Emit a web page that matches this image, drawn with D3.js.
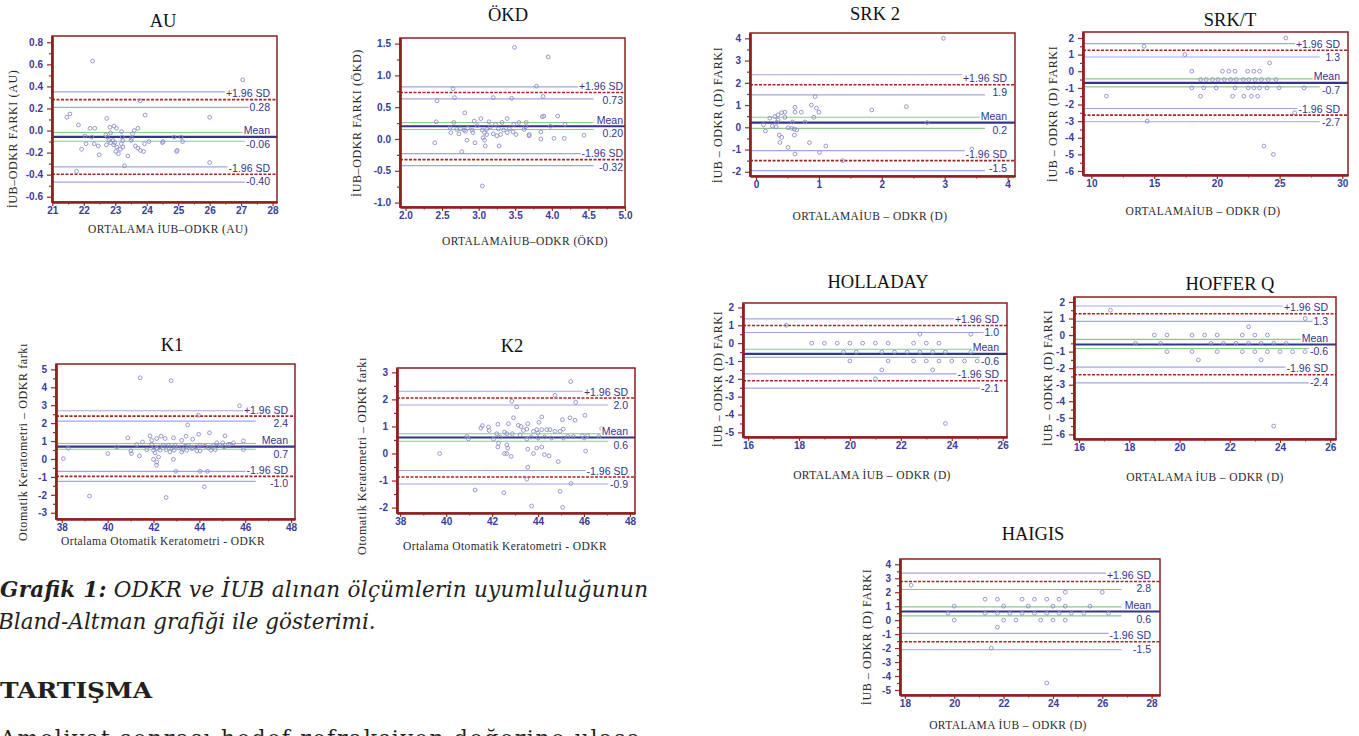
<!DOCTYPE html>
<html>
<head>
<meta charset="utf-8">
<script src="https://cdn.jsdelivr.net/npm/d3@7/dist/d3.min.js"></script>
<style>
  body { margin: 0; background: #fff; }
  svg { display: block; }
</style>
</head>
<body>
<svg id="page" width="1359" height="736"></svg>
<script>
// ---- data ----
const titles = ["AU", "ÖKD", "K1", "K2", "SRK 2", "SRK/T", "HOLLADAY", "HOFFER Q", "HAIGIS"];
const xLabels = [
  "ORTALAMA İUB–ODKR (AU)", "ORTALAMAİUB–ODKR (ÖKD)",
  "Ortalama Otomatik Keratometri - ODKR", "Ortalama Otomatik Keratometri - ODKR",
  "ORTALAMAİUB – ODKR (D)", "ORTALAMAİUB – ODKR (D)",
  "ORTALAMA İUB – ODKR (D)", "ORTALAMA İUB – ODKR (D)", "ORTALAMA İUB – ODKR (D)"
];
const yLabels = [
  "İUB–ODKR FARKI (AU)", "İUB–ODKR FARKI (ÖKD)",
  "Otomatik Keratometri – ODKR farkı", "Otomatik Keratometri – ODKR farkı",
  "İUB – ODKR (D) FARKI", "İUB – ODKR (D) FARKI",
  "İUB – ODKR (D) FARKI", "İUB – ODKR (D) FARKI", "İUB – ODKR (D) FARKI"
];

// [mean difference, value] pairs
const auPoints = [[22.28,0.63],[27.05,0.46],[23.79,0.27],[21.46,0.12],[21.56,0.15],[21.83,0.05],[22.2,0.02],[22.35,0.02],[22.73,0.11],[23.95,0.14],[26.0,0.12],[22.04,-0.05],[22.25,-0.06],[22.07,-0.12],[21.93,-0.17],[22.33,-0.12],[22.46,-0.14],[22.49,-0.22],[22.83,0.03],[22.96,0.04],[23.04,0.02],[22.7,-0.04],[22.75,-0.06],[22.8,-0.09],[22.85,-0.11],[22.72,-0.13],[22.85,-0.02],[22.93,-0.09],[22.98,-0.11],[23.05,-0.15],[22.95,-0.13],[23.02,-0.19],[23.1,-0.21],[23.2,-0.01],[23.22,-0.06],[23.24,-0.09],[23.19,-0.12],[23.16,-0.17],[23.24,-0.15],[23.29,-0.32],[23.4,-0.23],[23.52,-0.07],[23.55,-0.03],[23.6,0.0],[23.72,0.02],[23.5,-0.09],[23.64,-0.14],[23.72,-0.16],[23.8,-0.18],[23.9,-0.19],[23.93,-0.12],[24.07,-0.10],[24.5,-0.11],[24.52,-0.10],[24.87,-0.06],[25.09,-0.06],[25.14,-0.10],[24.97,-0.18],[24.95,-0.19],[26.0,-0.29],[21.77,-0.37]];
const okdPoints = [[3.49,1.44],[3.95,1.29],[2.65,0.79],[3.79,0.83],[2.67,0.65],[2.43,0.60],[3.20,0.65],[3.45,0.64],[3.88,0.67],[2.81,0.41],[2.42,0.27],[2.66,0.26],[2.94,0.28],[3.03,0.32],[3.14,0.27],[3.39,0.32],[3.32,0.26],[3.55,0.26],[3.65,0.26],[3.87,0.35],[3.89,0.36],[4.08,0.36],[4.18,0.23],[3.98,0.20],[2.98,0.21],[3.23,0.23],[3.48,0.23],[2.61,0.18],[2.70,0.15],[2.75,0.16],[2.80,0.14],[2.85,0.17],[2.91,0.14],[2.62,0.10],[2.73,0.08],[2.82,0.12],[2.92,0.10],[3.11,0.15],[3.16,0.19],[3.27,0.16],[3.34,0.14],[3.42,0.16],[3.47,0.11],[3.51,0.07],[3.64,0.19],[3.62,0.15],[3.69,0.07],[3.69,0.05],[3.85,0.11],[3.85,0.0],[4.03,0.01],[4.17,0.01],[4.44,0.06],[3.05,0.14],[3.08,0.10],[3.11,0.07],[3.20,0.08],[3.25,0.05],[3.30,0.07],[3.39,0.10],[3.06,0.02],[3.08,-0.02],[2.84,-0.02],[2.95,-0.06],[2.40,-0.06],[3.09,-0.11],[3.28,-0.11],[2.77,-0.20],[3.05,-0.74]];
const k1Points = [[41.42,4.53],[42.77,4.37],[45.75,2.97],[43.96,2.44],[43.49,1.90],[43.97,1.38],[44.44,1.46],[45.12,1.29],[40.88,1.18],[41.85,1.29],[42.33,1.27],[42.87,1.18],[43.42,1.27],[43.23,1.04],[43.71,1.10],[41.92,1.04],[42.14,1.14],[42.51,1.14],[41.52,0.95],[41.27,0.80],[40.40,0.67],[38.29,0.60],[41.01,0.45],[41.04,0.30],[40.01,0.30],[38.07,0.02],[41.39,0.17],[41.71,0.52],[42.0,0.49],[42.14,0.58],[42.26,0.67],[42.43,0.76],[42.65,0.76],[42.80,0.63],[42.94,0.76],[43.09,0.63],[43.28,0.52],[43.38,0.71],[43.52,0.76],[43.71,0.63],[43.86,0.67],[44.03,0.76],[44.25,0.71],[44.40,0.63],[44.61,0.76],[44.76,0.90],[44.90,0.76],[45.08,0.67],[45.27,0.82],[45.49,0.90],[45.92,1.01],[45.92,0.52],[44.69,0.52],[44.03,0.45],[43.45,0.49],[42.90,0.49],[42.55,0.52],[42.07,0.34],[42.22,0.11],[42.0,-0.02],[42.14,-0.17],[42.13,-0.35],[42.87,-0.02],[42.97,-0.69],[44.03,-0.69],[44.35,-0.69],[44.22,-1.55],[42.55,-2.15],[39.21,-2.07],[41.92,0.82],[42.03,0.67],[42.29,0.49],[42.72,0.39],[43.23,0.39],[43.67,0.58],[43.89,0.45],[44.50,0.49],[45.02,0.90],[45.34,0.82]];
const k2Points = [[45.42,2.66],[44.74,2.15],[42.86,1.93],[43.07,1.72],[45.64,1.89],[46.04,1.41],[42.93,1.32],[44.16,1.35],[45.39,1.32],[45.06,1.25],[45.61,1.23],[43.55,1.10],[44.04,1.15],[42.71,1.10],[41.58,1.03],[41.51,0.94],[41.84,0.98],[41.87,0.85],[42.25,1.08],[43.14,1.04],[43.26,1.0],[42.54,0.79],[43.36,0.85],[43.51,0.90],[43.80,0.82],[43.94,0.88],[43.99,0.75],[44.16,0.88],[44.38,0.88],[44.52,0.88],[44.74,0.82],[44.96,0.82],[45.10,0.90],[43.70,0.61],[46.77,0.92],[46.65,0.63],[45.93,0.66],[46.01,0.57],[46.16,0.66],[45.54,0.63],[45.29,0.63],[45.10,0.57],[44.59,0.57],[44.28,0.61],[44.01,0.57],[43.51,0.53],[43.22,0.69],[42.88,0.73],[42.64,0.73],[42.35,0.61],[42.20,0.73],[40.90,0.63],[40.97,0.54],[42.06,0.53],[42.28,0.38],[42.25,0.24],[42.64,0.32],[42.68,0.20],[42.54,0.0],[42.64,0.0],[42.83,-0.11],[39.72,0.0],[43.55,0.16],[43.80,0.0],[43.94,0.20],[44.16,0.24],[44.28,-0.04],[44.48,-0.09],[44.88,-0.30],[46.07,0.09],[43.55,-0.51],[43.51,-0.95],[45.43,-1.11],[41.26,-1.35],[42.51,-1.45],[44.96,-1.40],[43.72,-1.94],[45.07,-1.99]];
const srk2Points = [[2.98,4.0],[0.94,1.38],[0.62,0.90],[0.88,1.0],[0.96,0.86],[1.0,0.68],[0.72,0.68],[0.62,0.68],[0.41,0.66],[0.46,0.68],[0.35,0.56],[0.30,0.48],[0.22,0.41],[0.46,0.45],[0.92,0.45],[0.35,0.33],[0.33,0.23],[0.58,0.24],[0.78,0.24],[0.12,0.11],[0.26,0.06],[0.32,0.02],[0.51,-0.02],[0.57,-0.05],[0.61,-0.08],[0.65,-0.12],[0.15,-0.17],[0.37,-0.35],[0.41,-0.45],[0.61,-0.35],[0.38,-0.68],[0.85,-0.69],[1.11,-0.84],[0.51,-0.90],[1.01,-1.13],[0.62,-1.20],[1.38,-1.50],[1.84,0.78],[2.39,0.93],[2.72,0.21],[3.43,-0.98]];
const srktPoints = [[25.5,2.0],[14.2,1.5],[17.45,1.0],[24.2,0.5],[18.0,0],[20.45,0],[20.95,0],[21.45,0],[22.45,0],[22.95,0],[23.4,0],[18.7,-0.5],[19.15,-0.5],[19.65,-0.5],[20.1,-0.5],[20.6,-0.5],[21.1,-0.5],[21.55,-0.5],[22.1,-0.5],[22.55,-0.5],[23.05,-0.5],[23.55,-0.5],[24.1,-0.5],[24.7,-0.5],[18.0,-1.0],[18.95,-1.0],[19.95,-1.0],[21.45,-1.0],[22.5,-1.0],[22.95,-1.0],[23.4,-1.0],[24.0,-1.0],[24.95,-1.0],[26.95,-1.0],[11.2,-1.5],[18.7,-1.5],[21.25,-1.5],[22.15,-1.5],[22.75,-1.5],[23.25,-1.5],[26.2,-2.5],[14.45,-3.0],[23.75,-4.5],[24.5,-5.0]];
const hollPoints = [[17.5,1.0],[22.75,0.5],[24.75,0.5],[18.5,0],[19,0],[19.5,0],[20,0],[20.5,0],[21,0],[21.5,0],[22.5,0],[23,0],[23.5,0],[19.75,-0.5],[20.25,-0.5],[21.25,-0.5],[21.75,-0.5],[22.25,-0.5],[22.75,-0.5],[23.25,-0.5],[23.75,-0.5],[24.75,-0.5],[20,-1],[21.5,-1],[22.5,-1],[23,-1],[23.5,-1],[24,-1],[24.5,-1],[25,-1],[21.25,-1.5],[23.25,-1.5],[21,-2],[23.75,-4.5]];
const hoffPoints = [[17.25,1.5],[22.75,0.5],[25.0,1.0],[19,0],[19.5,0],[20.5,0],[21,0],[21.5,0],[22.5,0],[23,0],[23.5,0],[18.25,-0.5],[19.25,-0.5],[21.25,-0.5],[21.75,-0.5],[22.25,-0.5],[22.75,-0.5],[23.25,-0.5],[23.75,-0.5],[24.25,-0.5],[19.5,-1],[20.5,-1],[21.5,-1],[22.5,-1],[23,-1],[23.5,-1],[24,-1],[24.5,-1],[25,-1],[20.75,-1.5],[23.25,-1.5],[23.75,-5.5]];
const haigPoints = [[18.25,2.5],[24.5,2.0],[26.0,2.0],[21.25,1.5],[21.75,1.5],[22.75,1.5],[23.25,1.5],[23.75,1.5],[24.25,1.5],[20,1],[22,1],[23,1],[24,1],[24.5,1],[25.5,1],[19.75,0.5],[21.25,0.5],[21.75,0.5],[22.25,0.5],[22.75,0.5],[23.25,0.5],[23.75,0.5],[24.25,0.5],[24.75,0.5],[25.25,0.5],[26.25,0.5],[20,0],[22,0],[22.5,0],[23.5,0],[24,0],[24.5,0],[21.75,-0.5],[21.5,-2],[23.75,-4.5]];

// limits: upper CI hi, +1.96 SD, upper CI lo, mean CI hi, mean, mean CI lo, lower CI hi, -1.96 SD, lower CI lo
const auLimits = [0.35, 0.28, 0.21, -0.018, -0.057, -0.097, -0.33, -0.396, -0.468];
const okdLimits = [0.82, 0.73, 0.63, 0.26, 0.20, 0.15, -0.23, -0.325, -0.42];
const k1Limits = [2.69, 2.39, 2.11, 0.86, 0.69, 0.54, -0.69, -0.97, -1.25];
const k2Limits = [2.30, 2.05, 1.79, 0.73, 0.59, 0.45, -0.63, -0.87, -1.13];
const srk2Limits = [2.36, 1.91, 1.46, 0.45, 0.21, -0.05, -1.05, -1.50, -1.95];
const srktLimits = [1.66, 1.26, 0.86, -0.46, -0.70, -0.94, -2.24, -2.64, -3.04];
const hollLimits = [1.36, 0.99, 0.60, -0.34, -0.60, -0.80, -1.72, -2.11, -2.52];
const hoffLimits = [1.76, 1.29, 0.83, -0.26, -0.57, -0.81, -1.94, -2.40, -2.89];
const haigLimits = [3.37, 2.77, 2.20, 0.95, 0.62, 0.31, -0.95, -1.55, -2.12];

// printed values for upper limit, mean, lower limit
const auValues = ["0.28", "-0.06", "-0.40"];
const okdValues = ["0.73", "0.20", "-0.32"];
const k1Values = ["2.4", "0.7", "-1.0"];
const k2Values = ["2.0", "0.6", "-0.9"];
const srk2Values = ["1.9", "0.2", "-1.5"];
const srktValues = ["1.3", "-0.7", "-2.7"];
const hollValues = ["1.0", "-0.6", "-2.1"];
const hoffValues = ["1.3", "-0.6", "-2.4"];
const haigValues = ["2.8", "0.6", "-1.5"];

// x where the CI lines stop
const ciEnds = [27.9, 4.57, 46.46, 47.06, 3.64, 28.2, 25.65, 25.4, 26.78];

const auXTicks = [21, 22, 23, 24, 25, 26, 27, 28];
const auYTicks = [-0.6, -0.4, -0.2, 0, 0.2, 0.4, 0.6, 0.8];
const okdXTicks = [2.0, 2.5, 3.0, 3.5, 4.0, 4.5, 5.0];
const okdYTicks = [-1.0, -0.5, 0, 0.5, 1.0, 1.5];
const kXTicks = [38, 40, 42, 44, 46, 48];
const k1YTicks = [-3, -2, -1, 0, 1, 2, 3, 4, 5];
const k2YTicks = [-2, -1, 0, 1, 2, 3];
const srk2XTicks = [0, 1, 2, 3, 4];
const srk2YTicks = [-2, -1, 0, 1, 2, 3, 4];
const srktXTicks = [10, 15, 20, 25, 30];
const srktYTicks = [-6, -5, -4, -3, -2, -1, 0, 1, 2];
const d16XTicks = [16, 18, 20, 22, 24, 26];
const hollYTicks = [-5, -4, -3, -2, -1, 0, 1, 2];
const hoffYTicks = [-6, -5, -4, -3, -2, -1, 0, 1, 2];
const haigXTicks = [18, 20, 22, 24, 26, 28];
const haigYTicks = [-5, -4, -3, -2, -1, 0, 1, 2, 3, 4];

const pointSets = [auPoints, okdPoints, k1Points, k2Points, srk2Points, srktPoints, hollPoints, hoffPoints, haigPoints];
const limitSets = [auLimits, okdLimits, k1Limits, k2Limits, srk2Limits, srktLimits, hollLimits, hoffLimits, haigLimits];
const valueSets = [auValues, okdValues, k1Values, k2Values, srk2Values, srktValues, hollValues, hoffValues, haigValues];
const xTickSets = [auXTicks, okdXTicks, kXTicks, kXTicks, srk2XTicks, srktXTicks, d16XTicks, d16XTicks, haigXTicks];
const yTickSets = [auYTicks, okdYTicks, k1YTicks, k2YTicks, srk2YTicks, srktYTicks, hollYTicks, hoffYTicks, haigYTicks];

// ---- layout (pixels) ----
const layout = [
  { frame: [52, 36, 277, 202],     xd: [20.99, 28.14], yd: [-0.648, 0.857], title: [163, 27],   xlab: [168, 233],  ylab: [13, 139],   pad: 7, fx: ".0f", fy: ".1f" },
  { frame: [400, 38, 625, 207],    xd: [1.925, 5.0],   yd: [-1.07, 1.588],  title: [508, 21],   xlab: [525, 245],  ylab: [357, 123],  pad: 2, fx: ".1f", fy: ".1f" },
  { frame: [56, 364, 295, 519],    xd: [37.75, 48.17], yd: [-3.35, 5.30],   title: [172, 351],  xlab: [163, 545],  ylab: [23, 442],   pad: 7, fx: "d", fy: "d" },
  { frame: [397, 368, 635, 513],   xd: [37.86, 48.22], yd: [-2.2, 3.16],    title: [512, 352],  xlab: [505, 550],  ylab: [362, 456],  pad: 7, fx: "d", fy: "d" },
  { frame: [750, 33, 1015, 176],   xd: [-0.095, 4.117], yd: [-2.19, 4.24],  title: [875, 20],   xlab: [870, 220],  ylab: [718, 115],  pad: 8, fx: "d", fy: "d" },
  { frame: [1083, 32, 1348, 175],  xd: [9.33, 30.45],  yd: [-6.24, 2.36],   title: [1230, 26],  xlab: [1203, 215], ylab: [1053, 114], pad: 8, fx: "d", fy: "d" },
  { frame: [743, 303, 1007, 437],  xd: [15.8, 26.17],  yd: [-5.26, 2.25],   title: [878, 288],  xlab: [872, 479],  ylab: [718, 379],  pad: 8, fx: "d", fy: "d" },
  { frame: [1074, 297, 1336, 439], xd: [15.8, 26.23],  yd: [-6.28, 2.30],   title: [1230, 290], xlab: [1205, 481], ylab: [1048, 378], pad: 8, fx: "d", fy: "d" },
  { frame: [900, 559, 1160, 695],  xd: [17.8, 28.34],  yd: [-5.36, 4.38],   title: [1033, 540], xlab: [1008, 729], ylab: [867, 637],  pad: 9, fx: "d", fy: "d" }
];

const RED = "#a52626", FRAME = "#8e1f1f", NAVY = "#34348c", CI = "#a3a3e6", GREEN = "#8cc98c", DOT = "#8c8cc8";
const SERIF = "Liberation Serif, Times New Roman, serif";
const svg = d3.select("#page");

function fmt(spec) {
  const f = d3.format(spec);
  return v => f(v).replace("\u2212", "-");
}

function midpoints(ticks) {
  return d3.pairs(ticks).map(([a, b]) => (a + b) / 2);
}

function limitLabel(g, txt, xr, yb) {
  const t = g.append("text")
    .attr("x", xr).attr("y", yb)
    .attr("text-anchor", "end")
    .attr("font-family", "Liberation Sans, Arial, sans-serif")
    .attr("font-size", 10.5)
    .attr("fill", NAVY)
    .text(txt);
  const bb = t.node().getBBox();
  g.insert("rect", () => t.node())
    .attr("x", bb.x - 1).attr("y", bb.y + 1.5)
    .attr("width", bb.width + 2).attr("height", bb.height - 3.5)
    .attr("fill", "#fff");
}

function drawPanel(i) {
  const L = layout[i];
  const [fx0, fy0, fx1, fy1] = L.frame;
  const x = d3.scaleLinear().domain(L.xd).range([fx0, fx1]);
  const y = d3.scaleLinear().domain(L.yd).range([fy1, fy0]);
  const lim = limitSets[i];
  const g = svg.append("g").attr("class", "panel");

  // CI lines (blue + green), stop at ciEnd
  g.selectAll("line.ci")
    .data([lim[0], lim[2], lim[6], lim[8]])
    .join("line")
    .attr("class", "ci")
    .attr("x1", fx0).attr("x2", x(ciEnds[i]))
    .attr("y1", d => y(d)).attr("y2", d => y(d))
    .attr("stroke", CI).attr("stroke-width", 1.1);

  g.selectAll("line.mci")
    .data([lim[3], lim[5]])
    .join("line")
    .attr("class", "mci")
    .attr("x1", fx0).attr("x2", x(ciEnds[i]))
    .attr("y1", d => y(d)).attr("y2", d => y(d))
    .attr("stroke", GREEN).attr("stroke-width", 1.1);

  // limits of agreement
  g.selectAll("line.loa")
    .data([lim[1], lim[7]])
    .join("line")
    .attr("class", "loa")
    .attr("x1", fx0).attr("x2", fx1)
    .attr("y1", d => y(d)).attr("y2", d => y(d))
    .attr("stroke", RED).attr("stroke-width", 1.6)
    .attr("stroke-dasharray", "3,1.5");

  // mean
  g.append("line")
    .attr("x1", fx0).attr("x2", fx1)
    .attr("y1", y(lim[4])).attr("y2", y(lim[4]))
    .attr("stroke", "#35358a").attr("stroke-width", 2.2);

  // points
  g.selectAll("circle")
    .data(pointSets[i])
    .join("circle")
    .attr("cx", d => x(d[0])).attr("cy", d => y(d[1]))
    .attr("r", 1.9)
    .attr("fill", "none")
    .attr("stroke", DOT).attr("stroke-width", 0.9);

  // labels on the right
  const xr = fx1 - L.pad;
  const vals = valueSets[i];
  limitLabel(g, "+1.96 SD", xr, y(lim[1]) - 2.5);
  limitLabel(g, vals[0], xr, y(lim[1]) + 11);
  limitLabel(g, "Mean", xr, y(lim[4]) - 2.5);
  limitLabel(g, vals[1], xr, y(lim[4]) + 11);
  limitLabel(g, "-1.96 SD", xr, y(lim[7]) - 2.5);
  limitLabel(g, vals[2], xr, y(lim[7]) + 11);

  // frame
  g.append("rect")
    .attr("x", fx0).attr("y", fy0)
    .attr("width", fx1 - fx0).attr("height", fy1 - fy0)
    .attr("fill", "none")
    .attr("stroke", FRAME).attr("stroke-width", 1.5);

  // axes
  const ya = g.append("g")
    .attr("transform", `translate(${fx0},0)`)
    .call(d3.axisLeft(y).tickValues(yTickSets[i]).tickSize(5).tickSizeOuter(0).tickPadding(4).tickFormat(fmt(L.fy)));
  const yMinor = g.append("g")
    .attr("transform", `translate(${fx0},0)`)
    .call(d3.axisLeft(y).tickValues(midpoints(yTickSets[i])).tickSize(3).tickSizeOuter(0).tickFormat(""));
  const xa = g.append("g")
    .attr("transform", `translate(0,${fy1})`)
    .call(d3.axisBottom(x).tickValues(xTickSets[i]).tickSize(4).tickSizeOuter(0).tickPadding(1).tickFormat(fmt(L.fx)));
  const xMinor = g.append("g")
    .attr("transform", `translate(0,${fy1})`)
    .call(d3.axisBottom(x).tickValues(midpoints(xTickSets[i])).tickSize(2.5).tickSizeOuter(0).tickFormat(""));

  [ya, yMinor, xa, xMinor].forEach(a => {
    a.select(".domain").attr("stroke", FRAME).attr("stroke-width", 2.2);
    a.selectAll(".tick line").attr("stroke", RED).attr("stroke-width", 1.2);
    a.selectAll(".tick text")
      .attr("fill", "#3b3b98")
      .attr("font-family", "Liberation Sans, Arial, sans-serif")
      .attr("font-size", 10)
      .attr("font-weight", "bold");
  });

  // titles
  g.append("text")
    .attr("x", L.title[0]).attr("y", L.title[1])
    .attr("text-anchor", "middle")
    .attr("font-family", SERIF)
    .attr("font-size", 18.5)
    .attr("fill", "#111")
    .text(titles[i]);

  g.append("text")
    .attr("x", L.xlab[0]).attr("y", L.xlab[1])
    .attr("text-anchor", "middle")
    .attr("font-family", SERIF)
    .attr("font-size", 11.5)
    .attr("letter-spacing", 0.4)
    .attr("fill", "#2a2a2a")
    .text(xLabels[i]);

  g.append("text")
    .attr("transform", `translate(${L.ylab[0]},${L.ylab[1]}) rotate(-90)`)
    .attr("text-anchor", "middle")
    .attr("dominant-baseline", "central")
    .attr("font-family", SERIF)
    .attr("font-size", 12)
    .attr("letter-spacing", 0.6)
    .attr("fill", "#2a2a2a")
    .text(yLabels[i]);
}

d3.range(titles.length).forEach(drawPanel);

// ---- page text under the left charts ----
const cap = svg.append("text")
  .attr("x", 0).attr("y", 597)
  .attr("font-family", "DejaVu Serif, serif")
  .attr("font-style", "italic")
  .attr("font-size", 21.5)
  .attr("fill", "#231f20")
  .attr("textLength", 648)
  .attr("lengthAdjust", "spacing");
cap.append("tspan").attr("font-weight", "bold").text("Grafik 1:");
cap.append("tspan").text(" ODKR ve İUB alınan ölçümlerin uyumluluğunun");

svg.append("text")
  .attr("x", -2).attr("y", 629)
  .attr("font-family", "DejaVu Serif, serif")
  .attr("font-style", "italic")
  .attr("font-size", 21.5)
  .attr("fill", "#231f20")
  .text("Bland-Altman grafiği ile gösterimi.");

svg.append("text")
  .attr("x", 0).attr("y", 698)
  .attr("font-family", "DejaVu Serif, serif")
  .attr("font-weight", "bold")
  .attr("font-size", 22)
  .attr("fill", "#231f20")
  .attr("textLength", 152)
  .attr("lengthAdjust", "spacingAndGlyphs")
  .text("TARTIŞMA");

svg.append("text")
  .attr("x", 0).attr("y", 746)
  .attr("font-family", "DejaVu Serif, serif")
  .attr("font-size", 22)
  .attr("fill", "#231f20")
  .attr("textLength", 640)
  .attr("lengthAdjust", "spacing")
  .text("Ameliyat sonrası hedef refraksiyon değerine ulaşa");
</script>
</body>
</html>
